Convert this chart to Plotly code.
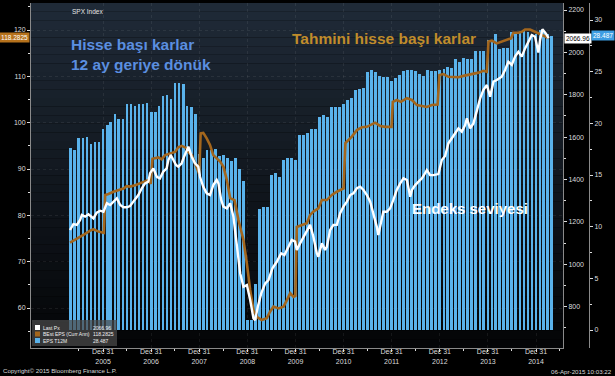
import plotly.graph_objects as go
import pandas as pd

# ---------------- data ----------------
# EPS T12M, monthly bars (month ends, Apr 2005 .. Apr 2015)
eps_t12m = [
    17.6, 17.4, 18.55, 18.6, 18.7, 18.0, 18.2, 18.2, 19.45, 19.8, 20.1, 20.9, 20.45, 20.45, 21.9,
    21.85, 21.7, 21.9, 21.9, 22.0, 21.1, 21.1, 21.65, 22.6, 22.7, 22.35, 23.9, 23.9, 23.8, 21.7,
    21.6, 20.9, 17.0, 16.6, 17.4, 17.4, 17.5, 16.8, 16.9, 16.6, 16.4, 16.6, 15.6, 14.45, 1.0,
    1.0, 4.5, 11.7, 11.9, 11.9, 15.0, 15.2, 14.8, 16.5, 16.6, 16.6, 16.45, 18.9, 18.9, 19.1,
    19.45, 19.5, 20.6, 20.8, 20.6, 21.6, 21.55, 21.55, 21.9, 22.3, 22.5, 23.2, 23.3, 23.4, 25.0,
    25.2, 25.0, 24.6, 24.5, 24.5, 24.1, 24.4, 24.7, 25.1, 25.2, 25.2, 25.1, 24.8, 24.6, 25.2,
    25.1, 25.1, 25.2, 25.3, 25.5, 25.4, 26.2, 25.9, 26.3, 26.2, 26.2, 27.0, 27.0, 27.0, 28.1,
    28.1, 28.6, 27.2, 27.3, 27.3, 28.8, 28.8, 28.8, 29.0, 28.8, 28.6, 28.6, 29.0, 28.8, 28.6,
    28.487,
]
bar_dates = pd.date_range("2005-05-01", periods=len(eps_t12m), freq="MS") - pd.Timedelta(days=1)

# SPX Index last price
spx_dates = [
    "2005-04-24", "2005-05-20", "2005-06-15", "2005-07-10", "2005-07-23", "2005-08-17", "2005-09-11",
    "2005-10-07", "2005-10-19", "2005-11-13", "2005-12-09", "2006-01-03", "2006-01-29", "2006-02-23",
    "2006-03-20", "2006-04-15", "2006-05-10", "2006-06-04", "2006-06-29", "2006-07-24", "2006-08-18",
    "2006-09-25", "2006-10-21", "2006-11-15", "2006-12-10", "2006-12-23", "2007-01-17", "2007-02-12",
    "2007-03-08", "2007-04-02", "2007-04-28", "2007-05-11", "2007-05-29", "2007-06-18", "2007-07-08",
    "2007-07-25", "2007-08-20", "2007-09-07", "2007-09-27", "2007-10-10", "2007-11-04", "2007-11-29",
    "2007-12-24", "2008-01-06", "2008-01-31", "2008-02-26", "2008-03-22", "2008-04-16", "2008-05-12",
    "2008-05-25", "2008-06-15", "2008-07-02", "2008-07-28", "2008-08-22", "2008-09-16", "2008-10-12",
    "2008-11-06", "2008-12-01", "2008-12-27", "2009-01-21", "2009-02-15", "2009-02-28", "2009-03-20",
    "2009-04-15", "2009-05-15", "2009-06-09", "2009-07-09", "2009-08-11", "2009-09-13", "2009-10-08",
    "2009-11-07", "2009-12-03", "2009-12-28", "2010-01-10", "2010-02-04", "2010-03-01", "2010-03-27",
    "2010-04-21", "2010-05-16", "2010-06-11", "2010-06-23", "2010-07-19", "2010-08-13", "2010-08-26",
    "2010-09-20", "2010-10-15", "2010-11-10", "2010-12-05", "2010-12-30", "2011-01-25", "2011-02-19",
    "2011-03-16", "2011-04-11", "2011-05-06", "2011-05-31", "2011-06-26", "2011-07-21", "2011-08-14",
    "2011-09-09", "2011-09-21", "2011-10-09", "2011-10-29", "2011-11-24", "2011-12-19", "2012-01-13",
    "2012-02-08", "2012-03-05", "2012-03-30", "2012-04-25", "2012-05-20", "2012-06-02", "2012-06-27",
    "2012-07-22", "2012-08-17", "2012-09-10", "2012-09-23", "2012-10-18", "2012-11-12", "2012-12-20",
    "2013-01-15", "2013-02-09", "2013-03-06", "2013-04-01", "2013-04-26", "2013-05-21", "2013-06-16",
    "2013-07-11", "2013-07-24", "2013-08-18", "2013-09-12", "2013-10-08", "2013-11-02", "2013-11-27",
    "2013-12-23", "2014-01-17", "2014-02-11", "2014-03-08", "2014-04-15", "2014-05-10", "2014-06-04",
    "2014-06-30", "2014-07-25", "2014-08-19", "2014-09-14", "2014-10-09", "2014-11-03", "2014-11-29",
    "2014-12-24", "2015-01-18", "2015-01-31", "2015-02-18", "2015-03-15", "2015-04-06",
]
spx_px = [
    1162, 1190, 1186, 1209, 1233, 1225, 1236,
    1225, 1217, 1244, 1253, 1248, 1288, 1280,
    1296, 1312, 1280, 1269, 1269, 1275, 1296,
    1327, 1359, 1382, 1390, 1430, 1453, 1413,
    1406, 1437, 1453, 1492, 1516, 1492, 1469,
    1461, 1477, 1508, 1540, 1555, 1508, 1477,
    1461, 1413, 1366, 1335, 1327, 1374, 1398,
    1382, 1304, 1272, 1264, 1288, 1225, 1083,
    958, 894, 902, 832, 745, 737, 800,
    863, 910, 926, 981, 1012, 1052, 1044,
    1083, 1115, 1107, 1068, 1099, 1130, 1162,
    1186, 1130, 1052, 1036, 1099, 1068, 1083,
    1162, 1186, 1186, 1241, 1272, 1296, 1327,
    1335, 1359, 1366, 1351, 1327, 1296, 1241,
    1178, 1138, 1194, 1248, 1248, 1264, 1304,
    1351, 1382, 1406, 1398, 1319, 1351, 1374,
    1390, 1406, 1430, 1445, 1421, 1421, 1426,
    1492, 1511, 1571, 1595, 1618, 1642, 1626,
    1657, 1689, 1642, 1665, 1728, 1783, 1823,
    1846, 1791, 1862, 1870, 1885, 1917, 1956,
    1941, 1980, 2003, 1980, 2019, 2051, 2082,
    2074, 1999, 2059, 2109, 2090, 2066.96,
]

# BEst EPS (current annual)
est_dates = [
    "2005-04-24", "2005-06-02", "2005-07-10", "2005-08-17", "2005-09-24", "2005-10-19", "2005-11-26",
    "2005-12-21", "2006-01-06", "2006-01-16", "2006-02-10", "2006-03-20", "2006-04-27", "2006-06-04",
    "2006-06-29", "2006-07-24", "2006-08-31", "2006-10-08", "2006-11-15", "2006-12-10", "2006-12-28",
    "2007-01-10", "2007-02-24", "2007-03-21", "2007-04-16", "2007-05-24", "2007-07-01", "2007-07-25",
    "2007-08-20", "2007-09-27", "2007-10-10", "2007-11-04", "2007-11-29", "2007-12-24", "2007-12-31",
    "2008-01-11", "2008-01-31", "2008-02-26", "2008-03-22", "2008-04-16", "2008-05-12", "2008-06-07",
    "2008-07-02", "2008-07-28", "2008-08-22", "2008-09-24", "2008-10-24", "2008-12-01", "2008-12-27",
    "2009-01-21", "2009-02-15", "2009-03-12", "2009-04-19", "2009-05-27", "2009-06-21", "2009-07-17",
    "2009-08-24", "2009-10-01", "2009-10-27", "2009-11-21", "2009-12-16", "2009-12-30", "2010-01-10",
    "2010-02-17", "2010-03-27", "2010-04-21", "2010-05-16", "2010-06-23", "2010-07-19", "2010-08-26",
    "2010-10-03", "2010-11-10", "2010-12-18", "2010-12-31", "2011-01-14", "2011-02-06", "2011-03-04",
    "2011-04-11", "2011-05-19", "2011-06-26", "2011-07-21", "2011-08-28", "2011-10-05", "2011-11-12",
    "2011-12-19", "2011-12-30", "2012-01-09", "2012-02-08", "2012-03-10", "2012-04-25", "2012-06-02",
    "2012-07-10", "2012-08-17", "2012-09-23", "2012-10-31", "2012-12-14", "2012-12-28", "2013-01-27",
    "2013-03-06", "2013-04-14", "2013-05-21", "2013-06-28", "2013-08-05", "2013-09-12", "2013-10-21",
    "2013-11-27", "2013-12-23", "2014-01-04", "2014-01-30", "2014-03-08", "2014-04-15", "2014-05-23",
    "2014-06-25", "2014-07-12", "2014-08-19", "2014-09-14", "2014-10-09", "2014-11-16", "2014-12-24",
    "2015-01-31", "2015-03-10", "2015-04-06",
]
est_eps = [
    74.1, 74.7, 75.4, 76.0, 76.7, 77.0, 76.5,
    76.3, 76.2, 84.4, 84.6, 85.1, 85.5, 85.8,
    86.3, 86.2, 86.5, 86.9, 87.3, 87.6, 86.8,
    92.2, 92.5, 92.1, 93.0, 93.4, 93.7, 94.7,
    95.0, 94.5, 93.7, 93.0, 91.2, 89.1, 89.0,
    97.7, 97.8, 96.6, 95.2, 93.0, 92.3, 91.6,
    90.5, 87.6, 83.7, 83.3, 79.0, 74.7, 69.6,
    63.9, 59.6, 58.1, 57.4, 57.8, 59.2, 60.3,
    59.9, 60.3, 61.7, 63.2, 62.4, 62.6, 77.5,
    77.9, 78.3, 80.1, 80.8, 81.5, 83.3, 83.3,
    84.4, 85.1, 85.5, 85.8, 95.6, 96.3, 97.0,
    98.4, 99.0, 99.1, 99.5, 100.0, 99.3, 99.1,
    99.1, 99.1, 104.5, 104.9, 104.5, 105.3, 104.9,
    103.8, 103.6, 103.4, 103.8, 103.9, 110.3, 110.5,
    109.9, 109.8, 109.8, 110.1, 110.3, 110.5, 110.8,
    111.2, 111.0, 117.5, 117.7, 117.1, 117.5, 117.8,
    118.2, 119.4, 119.4, 119.6, 120.1, 120.1, 119.6,
    119.1, 118.7, 118.2825,
]

legend_names = ["Last Px", "BEst EPS (Curr Ann)", "EPS T12M"]
legend_values = ["2066.96", "118.2825", "28.487"]
x_tick_dates = ["2005-12-31", "2006-12-31", "2007-12-31", "2008-12-31", "2009-12-31",
                "2010-12-31", "2011-12-31", "2012-12-31", "2013-12-31", "2014-12-31"]
x_tick_text = ["Dec 31<br>" + d[:4] for d in x_tick_dates]
x_minor_dates = ["2005-06-30", "2006-06-30", "2007-06-30", "2008-06-30", "2009-06-30",
                 "2010-06-30", "2011-06-30", "2012-06-30", "2013-06-30", "2014-06-30", "2015-06-30"]

# ---------------- styling / geometry ----------------
W, H = 615, 376
L, R, T, B = 31, 20, 3, 28
PW = W - L - R
PH = H - T - B
XDOM = (563 - L) / PW
POS3 = (589 - L) / PW

FONT = "Liberation Sans, Arial, sans-serif"
C_BAR = "#5ab3ec"
C_EST = "#a3661d"
C_SPX = "#ffffff"
C_AX = "#8a8a8a"
C_TXT = "#dcdcdc"


def px_x(p):
    return (p - L) / PW


def px_y(p):
    return (H - B - p) / PH


fig = go.Figure()
fig.add_trace(go.Bar(x=bar_dates, y=eps_t12m, yaxis="y", name=legend_names[2],
                     marker=dict(color=C_BAR, line=dict(width=0)),
                     width=21 * 86400000, showlegend=False))
fig.add_trace(go.Scatter(x=est_dates, y=est_eps, yaxis="y2", mode="lines", name=legend_names[1],
                         line=dict(color=C_EST, width=2.6), showlegend=False))
fig.add_trace(go.Scatter(x=spx_dates, y=spx_px, yaxis="y3", mode="lines", name=legend_names[0],
                         line=dict(color=C_SPX, width=2.4), showlegend=False))

shapes = []
# gradient background of plot area
N = 40
top = (31, 42, 55)
bot = (4, 5, 7)
for i in range(N):
    f = i / (N - 1)
    c = tuple(int(round(top[k] + (bot[k] - top[k]) * f)) for k in range(3))
    shapes.append(dict(type="rect", xref="paper", yref="paper", layer="below",
                       x0=0, x1=XDOM, y0=1 - (i + 1) / N, y1=1 - i / N,
                       fillcolor="rgb(%d,%d,%d)" % c, line=dict(width=0)))

# legend box
shapes.append(dict(type="rect", xref="paper", yref="paper", layer="above",
                   x0=px_x(32), x1=px_x(117), y0=px_y(346), y1=px_y(320),
                   fillcolor="rgba(75,75,75,0.72)", line=dict(width=0)))
leg_cols = [C_SPX, C_EST, C_BAR]
leg_rows = [327.5, 334, 340.5]
annotations = []
for name, val, col, ry in zip(legend_names, legend_values, leg_cols, leg_rows):
    shapes.append(dict(type="rect", xref="paper", yref="paper", layer="above",
                       x0=px_x(35), x1=px_x(40), y0=px_y(ry + 2.5), y1=px_y(ry - 2.5),
                       fillcolor=col, line=dict(width=0)))
    annotations.append(dict(x=px_x(41), y=px_y(ry), xref="paper", yref="paper",
                            text=name, showarrow=False, xanchor="left", yanchor="middle",
                            font=dict(family=FONT, size=5, color="#f0f0f0")))
    annotations.append(dict(x=px_x(91), y=px_y(ry), xref="paper", yref="paper",
                            text=val, showarrow=False, xanchor="left", yanchor="middle",
                            font=dict(family=FONT, size=5, color="#f0f0f0")))

# big labels
annotations += [
    dict(x=px_x(69), y=px_y(45), xref="paper", yref="paper", text="<b>Hisse başı karlar</b>",
         showarrow=False, xanchor="left", yanchor="middle",
         font=dict(family=FONT, size=15.5, color="#5b8fe0")),
    dict(x=px_x(69), y=px_y(64), xref="paper", yref="paper", text="<b>12 ay geriye dönük</b>",
         showarrow=False, xanchor="left", yanchor="middle",
         font=dict(family=FONT, size=15.5, color="#5b8fe0")),
    dict(x=px_x(290), y=px_y(38), xref="paper", yref="paper", text="<b>Tahmini hisse başı karlar</b>",
         showarrow=False, xanchor="left", yanchor="middle",
         font=dict(family=FONT, size=15.5, color="#c08c2b")),
    dict(x=px_x(410), y=px_y(208), xref="paper", yref="paper", text="<b>Endeks seviyesi</b>",
         showarrow=False, xanchor="left", yanchor="middle",
         font=dict(family=FONT, size=15, color="#ffffff")),
    dict(x=px_x(70), y=px_y(12), xref="paper", yref="paper", text="SPX Index",
         showarrow=False, xanchor="left", yanchor="middle",
         font=dict(family=FONT, size=6.5, color="#e6e6e6")),
    dict(x=px_x(1), y=px_y(370), xref="paper", yref="paper",
         text="Copyright\u00a9 2015 Bloomberg Finance L.P.",
         showarrow=False, xanchor="left", yanchor="middle",
         font=dict(family=FONT, size=6.2, color="#d8d8d8")),
    dict(x=px_x(614), y=px_y(371), xref="paper", yref="paper", text="06-Apr-2015 10:03:22",
         showarrow=False, xanchor="right", yanchor="middle",
         font=dict(family=FONT, size=6.2, color="#d8d8d8")),
    # last value tags
    dict(x=px_x(29.5), y=est_eps[-1], xref="paper", yref="y2", text=legend_values[1],
         showarrow=False, xanchor="right", yanchor="middle", bgcolor="#b6721c", borderpad=1,
         font=dict(family=FONT, size=6.5, color="#ffffff")),
    dict(x=px_x(564), y=spx_px[-1], xref="paper", yref="y3", text=legend_values[0],
         showarrow=False, xanchor="left", yanchor="middle", bgcolor="#ffffff", borderpad=1,
         font=dict(family=FONT, size=6.5, color="#000000")),
    dict(x=px_x(591), y=eps_t12m[-1], xref="paper", yref="y", text=legend_values[2],
         showarrow=False, xanchor="left", yanchor="middle", bgcolor="#3d9de2", borderpad=1,
         font=dict(family=FONT, size=6.5, color="#ffffff")),
]

tickfont = dict(family=FONT, size=7, color=C_TXT)
grid_kw = dict(showgrid=True, gridcolor="rgba(255,255,255,0.07)", griddash="dot", gridwidth=1)

fig.update_layout(
    width=W, height=H,
    margin=dict(l=L, r=R, t=T, b=B, pad=0),
    paper_bgcolor="#000000", plot_bgcolor="rgba(0,0,0,0)",
    showlegend=False, bargap=0,
    shapes=shapes, annotations=annotations,
    xaxis=dict(domain=[0, XDOM], type="date", range=["2004-07-02", "2015-07-24"],
               anchor="y", tickmode="array", tickvals=x_tick_dates, ticktext=x_tick_text,
               ticks="outside", ticklen=3, tickcolor=C_TXT, tickfont=tickfont,
               ticklabelstandoff=-6,
               showline=True, linecolor=C_AX, linewidth=1, zeroline=False,
               minor=dict(tickmode="array", tickvals=x_minor_dates, ticks="outside",
                          ticklen=2, tickcolor=C_TXT, showgrid=False),
               **grid_kw),
    yaxis=dict(range=[-1.742, 31.645], anchor="free", position=POS3, side="right",
               tickmode="array", tickvals=[0, 5, 10, 15, 20, 25, 30],
               ticks="outside", ticklen=3, tickcolor=C_TXT, tickfont=tickfont,
               showline=True, linecolor=C_AX, linewidth=1, showgrid=False, zeroline=False,
               minor=dict(dtick=2.5, tick0=0, ticks="outside", ticklen=2, tickcolor=C_TXT,
                          showgrid=False)),
    yaxis2=dict(range=[51.37, 125.83], overlaying="y", side="left", anchor="x",
                tickmode="linear", tick0=0, dtick=10,
                ticks="outside", ticklen=3, tickcolor=C_TXT, tickfont=tickfont,
                showline=True, linecolor=C_AX, linewidth=1, zeroline=False,
                minor=dict(dtick=5, tick0=0, ticks="outside", ticklen=2, tickcolor=C_TXT,
                           showgrid=False),
                **grid_kw),
    yaxis3=dict(range=[605.1, 2233.2], overlaying="y", side="right", anchor="x",
                tickmode="linear", tick0=0, dtick=200,
                ticks="outside", ticklen=3, tickcolor=C_TXT, tickfont=tickfont,
                showline=True, linecolor=C_AX, linewidth=1, showgrid=False, zeroline=False,
                minor=dict(dtick=100, tick0=0, ticks="outside", ticklen=2, tickcolor=C_TXT,
                           showgrid=False)),
)

fig.write_html(
    "out.html",
    config={"displayModeBar": False},
    post_script="document.body.style.margin='0';document.body.style.background='#000';",
)
